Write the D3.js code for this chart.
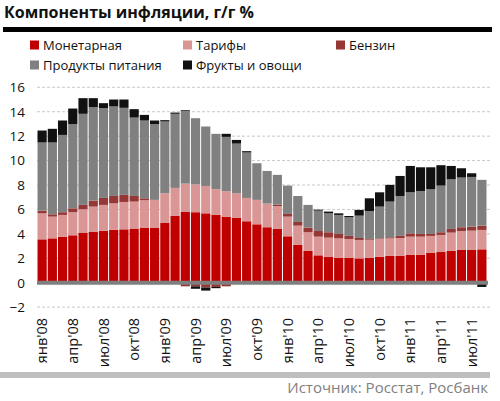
<!DOCTYPE html>
<html><head><meta charset="utf-8">
<script src="https://cdn.jsdelivr.net/npm/d3@7"></script>
<style>
body{margin:0;background:#fff}
svg{display:block;font-family:'Open Sans',sans-serif}
</style>
</head><body>
<svg id="c" width="500" height="401"></svg>
<script>
const months = [
 "янв'08","фев'08","мар'08","апр'08","май'08","июн'08","июл'08","авг'08","сен'08","окт'08","ноя'08","дек'08",
 "янв'09","фев'09","мар'09","апр'09","май'09","июн'09","июл'09","авг'09","сен'09","окт'09","ноя'09","дек'09",
 "янв'10","фев'10","мар'10","апр'10","май'10","июн'10","июл'10","авг'10","сен'10","окт'10","ноя'10","дек'10",
 "янв'11","фев'11","мар'11","апр'11","май'11","июн'11","июл'11","авг'11"];
const tickLabels = ["янв'08","апр'08","июл'08","окт'08","янв'09","апр'09","июл'09","окт'09",
 "янв'10","апр'10","июл'10","окт'10","янв'11","апр'11","июл'11"];
const yTicks = [-2,0,2,4,6,8,10,12,14,16];

const monetary = [3.55,3.63,3.77,3.88,4.07,4.18,4.26,4.34,4.37,4.43,4.51,4.51,
 4.92,5.49,5.79,5.77,5.68,5.55,5.41,5.30,5.03,4.78,4.54,4.40,
 3.80,3.09,2.60,2.24,2.10,2.05,2.05,1.99,2.05,2.13,2.19,2.19,
 2.27,2.30,2.46,2.51,2.60,2.68,2.68,2.73];
const tariffs = [2.13,1.78,1.78,1.89,1.94,2.05,2.11,2.16,2.24,2.21,2.24,2.27,
 2.40,2.27,2.32,2.29,2.24,2.10,2.08,2.02,1.91,2.00,1.94,1.88,
 1.61,1.58,1.53,1.53,1.59,1.58,1.53,1.51,1.47,1.45,1.44,1.47,
 1.50,1.47,1.37,1.40,1.50,1.55,1.58,1.59];
const petrol = [0.22,0.19,0.22,0.32,0.36,0.49,0.57,0.60,0.58,0.46,0.16,0,
 0,0,-0.30,-0.30,-0.40,-0.35,-0.30,0,0,0,0,0.11,
 0.22,0.30,0.38,0.46,0.44,0.36,0.25,0.16,0.06,0.05,0.09,0.17,
 0.27,0.22,0.16,0.22,0.30,0.31,0.33,0.35];
const food = [5.58,5.88,6.33,6.89,7.46,7.65,7.35,7.33,7.13,6.42,6.37,6.20,
 5.88,6.07,5.96,5.41,4.87,4.54,4.45,4.07,3.72,3.00,2.67,2.44,
 2.32,2.13,1.86,1.67,1.55,1.56,1.53,1.83,2.29,2.60,2.92,3.27,
 3.36,3.52,3.66,3.82,4.07,4.07,4.07,3.75];
const fruitVeg = [0.98,1.12,1.18,1.28,1.28,0.74,0.41,0.57,0.68,0.69,0.46,0.30,
 0.11,0.10,0.06,-0.20,-0.25,-0.10,0.25,0.30,0.11,0,0,0,
 0,0,0,0.08,0.14,0.13,0.10,0.47,1.04,1.17,1.37,1.64,
 2.16,1.94,1.80,1.67,1.09,0.76,0.30,-0.35];

const seriesNames = ["Монетарная","Тарифы","Бензин","Продукты питания","Фрукты и овощи"];
const seriesKeys = ["m","t","p","f","fv"];
const seriesColors = ["#c00000","#da9694","#953735","#808080","#111111"];

const table = months.map((mo,i)=>({month:mo,m:monetary[i],t:tariffs[i],p:petrol[i],f:food[i],fv:fruitVeg[i]}));

const svg = d3.select("#c");

// title
svg.append("text").attr("x",4).attr("y",18).attr("font-size",16).attr("font-weight","bold")
  .attr("fill","#111").text("Компоненты инфляции, г/г %");
svg.append("rect").attr("x",3).attr("y",27).attr("width",489).attr("height",5).attr("fill","#000");

// legend
const legendPos = [[30,45],[183,45],[336,45],[30,65],[183,65]];
seriesNames.forEach((n,i)=>{
  const g = svg.append("g").attr("transform",`translate(${legendPos[i][0]},${legendPos[i][1]})`);
  g.append("rect").attr("x",0).attr("y",-4.5).attr("width",9).attr("height",9).attr("fill",seriesColors[i]);
  g.append("text").attr("x",13).attr("y",0).attr("dy","0.35em").attr("font-size",13).attr("fill","#111").text(n);
});

const x = d3.scaleBand().domain(months).range([37,487]).paddingInner(0.1).paddingOuter(0.05);
const y = d3.scaleLinear().domain([-2,16]).range([307.1,87.3]);

// gridlines
svg.append("g").selectAll("line").data(yTicks.filter(d=>d!==0)).join("line")
  .attr("x1",37).attr("x2",490).attr("y1",d=>y(d)).attr("y2",d=>y(d))
  .attr("stroke","#c8c8c8").attr("stroke-width",1).attr("stroke-dasharray","3,2");

// y axis labels
const yAxis = d3.axisLeft(y).tickValues(yTicks).tickSize(0).tickPadding(0);
const ya = svg.append("g").attr("transform","translate(25,0)").call(yAxis);
ya.select(".domain").remove();
ya.selectAll("text").attr("font-size",13.5).attr("font-family","'Open Sans',sans-serif").attr("fill","#111");

// bars
const stack = d3.stack().keys(seriesKeys).offset(d3.stackOffsetDiverging);
const stacked = stack(table);
svg.append("g").selectAll("g").data(stacked).join("g").attr("fill",(d,i)=>seriesColors[i])
  .selectAll("rect").data(d=>d).join("rect")
  .attr("x",d=>x(d.data.month)).attr("width",x.bandwidth())
  .attr("y",d=>y(Math.max(d[0],d[1]))).attr("height",d=>Math.abs(y(d[0])-y(d[1])));

// x axis line
svg.append("line").attr("x1",37).attr("x2",488).attr("y1",y(0)).attr("y2",y(0))
  .attr("stroke","#7f7f7f").attr("stroke-width",4);

// x tick labels
const xAxis = d3.axisBottom(x).tickValues(tickLabels).tickSize(0).tickPadding(0);
const xa = svg.append("g").attr("transform","translate(0,318)").call(xAxis);
xa.select(".domain").remove();
xa.selectAll("text").attr("font-size",14.5).attr("font-family","'Open Sans',sans-serif").attr("fill","#111")
  .attr("transform","rotate(-90)").attr("text-anchor","end").attr("x",0).attr("y",0).attr("dy","0.35em");

// bottom band and source
svg.append("rect").attr("x",0).attr("y",372).attr("width",490).attr("height",6).attr("fill","#bfbfbf");
svg.append("text").attr("x",488).attr("y",393).attr("text-anchor","end").attr("font-size",15)
  .attr("fill","#808080").text("Источник: Росстат, Росбанк");
</script>
</body></html>
